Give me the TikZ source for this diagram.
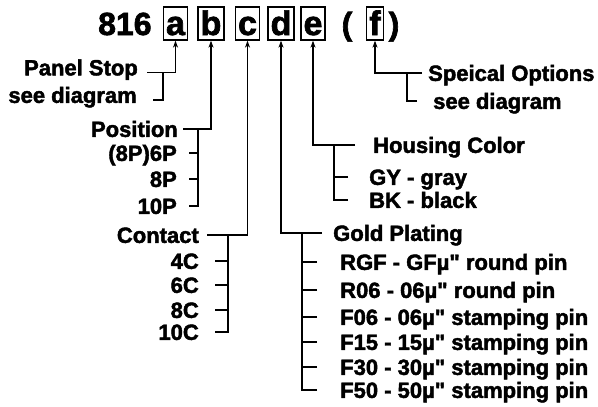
\documentclass[tikz,border=0pt]{standalone}
\usepackage{fontspec}
\newfontfamily\heavy{Liberation Sans Bold}[Ligatures=TeXOff, FakeBold=2]
\usetikzlibrary{arrows.meta}
\tikzset{
    digits/.style={font=\heavy\fontsize{32}{36}\selectfont, inner sep=0pt},
    slot/.style={digits, font=\heavy\fontsize{34}{36}\selectfont, draw, line width=1.3pt, inner xsep=2.5pt, text height=28pt, text depth=5pt},
    leftlbl/.style={font=\heavy\fontsize{22}{24}\selectfont, anchor=east, inner ysep=0pt, text height=15.75pt, text depth=0pt},
    rightlbl/.style={leftlbl, anchor=west},
    wire/.style={line width=1.2pt},
    arrow/.style={wire, -{Stealth[length=7pt,width=5pt]}}
}
\begin{document}
\begin{tikzpicture}[x=1pt,y=-1pt]
\useasboundingbox (0,0) rectangle (598,407);

% part number with option slots
\node[digits, anchor=base west] (num) at (98,35) {816};
\node[slot, anchor=base] (a) at (175.5,35) {a};
\node[slot, anchor=base] (b) at (211,35) {b};
\node[slot, anchor=base] (c) at (247.5,35) {c};
\node[slot, anchor=base] (d) at (281,35) {d};
\node[slot, anchor=base] (e) at (313,35) {e};
\node[digits, anchor=base] (lp) at (347,35) {(};
\node[slot, anchor=base] (f) at (375,35) {f};
\node[digits, anchor=base] (rp) at (394,35) {)};

% a: Panel Stop
\node[leftlbl, inner xsep=9pt, text depth=10pt] (ps) at (147,72.5) {Panel Stop};
\node[leftlbl, inner xsep=16pt, text depth=10pt] (sda) at (153,100) {see diagram};
\coordinate (busA) at (163,72.5);
\draw[arrow] (ps.east) -| (a.south);
\draw[wire] (sda.east) -| (busA);

% b: Position
\node[leftlbl, inner xsep=5pt] (pos) at (183,129) {Position};
\coordinate (busB) at (198,129);
\draw[arrow] (pos.east) -| (b.south);
\foreach \n/\t/\y in {p6/{(8P)6P}/153, p8/8P/179, p10/10P/206}{
    \node[leftlbl, inner xsep=12pt] (\n) at (189,\y) {\t};
    \draw[wire] (\n.east) -| (busB);
}

% c: Contact
\node[leftlbl, inner xsep=8pt] (con) at (207,235) {Contact};
\coordinate (busC) at (228,235);
\draw[arrow] (con.east) -| (c.south);
\foreach \n/\t/\y in {c4/4C/261, c6/6C/285, c8/8C/310, c10/10C/332}{
    \node[leftlbl, inner xsep=16pt] (\n) at (215,\y) {\t};
    \draw[wire] (\n.east) -| (busC);
}

% d: Gold Plating
\node[rightlbl, inner xsep=11pt] (gold) at (322,233) {Gold Plating};
\coordinate (busD) at (302,233);
\draw[arrow] (gold.west) -| (d.south);
\foreach \n/\t/\y in {rgf/RGF - GFµ" round pin/262, r06/R06 - 06µ" round pin/290,
    f06/F06 - 06µ" stamping pin/317, f15/F15 - 15µ" stamping pin/342,
    f30/F30 - 30µ" stamping pin/367, f50/F50 - 50µ" stamping pin/390}{
    \node[rightlbl, inner xsep=23pt] (\n) at (317,\y) {\t};
    \draw[wire] (\n.west) -| (busD);
}

% e: Housing Color
\node[rightlbl, inner xsep=18pt] (hc) at (355,145) {Housing Color};
\coordinate (busE) at (334,145);
\draw[arrow] (hc.west) -| (e.south);
\foreach \n/\t/\y in {gy/GY - gray/177, bk/BK - black/200}{
    \node[rightlbl, inner xsep=21pt] (\n) at (348,\y) {\t};
    \draw[wire] (\n.west) -| (busE);
}

% f: Speical Options
\node[rightlbl, inner xsep=6pt] (so) at (422,73) {Speical Options};
\node[rightlbl, inner xsep=16pt] (sdf) at (417,101) {see diagram};
\coordinate (busF) at (407,73);
\draw[arrow] (so.west) -| (f.south);
\draw[wire] (sdf.west) -| (busF);

\end{tikzpicture}
\end{document}
